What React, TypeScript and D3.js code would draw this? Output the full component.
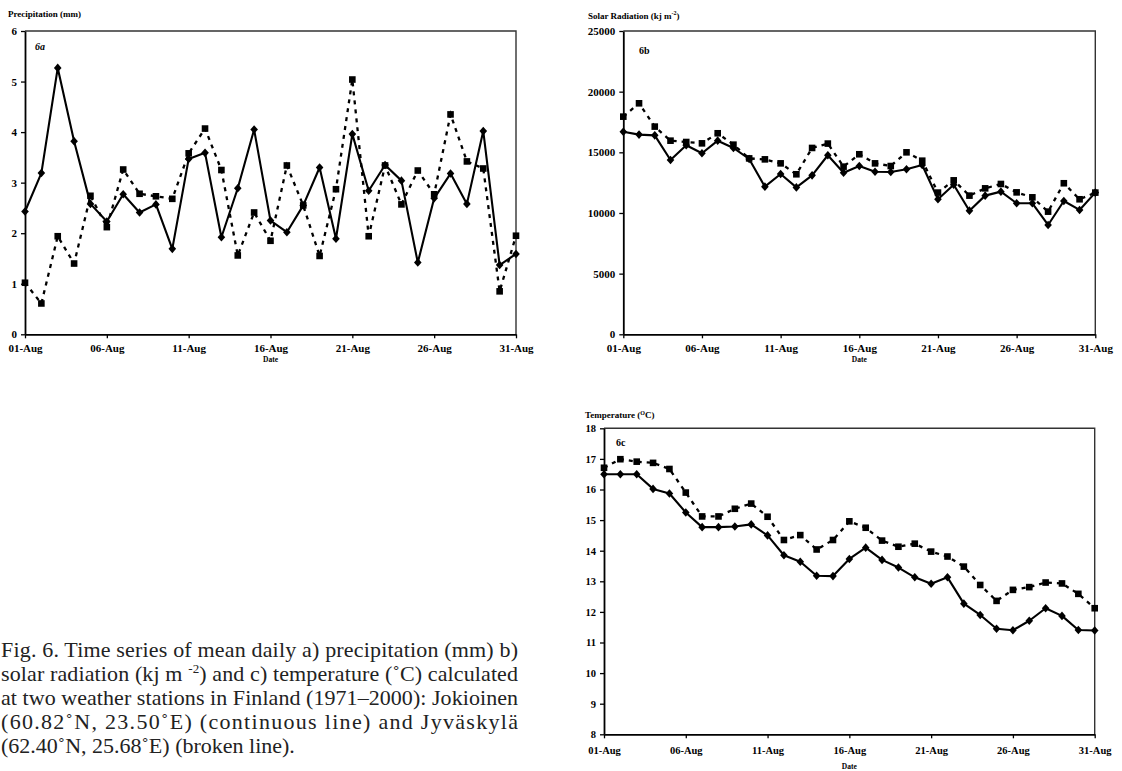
import { useRef, useEffect } from "react";
import * as d3 from "d3";

// days of August shown on every panel
const dates = d3.timeDays(new Date(2000, 7, 1), new Date(2000, 8, 1));
const tickDates = dates.filter((d, i) => i % 5 === 0);

// 6a precipitation (mm)
const precipTicks = [0, 1, 2, 3, 4, 5, 6];
const precipJokioinen = [2.43, 3.19, 5.27, 3.82, 2.58, 2.23, 2.77, 2.41, 2.57, 1.69, 3.47, 3.59, 1.92, 2.89, 4.05, 2.25, 2.02, 2.55, 3.3, 1.89, 3.96, 2.84, 3.35, 3.04, 1.42, 2.69, 3.18, 2.58, 4.02, 1.37, 1.59];
const precipJyvaskyla = [1.02, 0.61, 1.94, 1.4, 2.74, 2.12, 3.26, 2.78, 2.73, 2.68, 3.58, 4.07, 3.25, 1.56, 2.41, 1.85, 3.34, 2.55, 1.55, 2.87, 5.04, 1.94, 3.34, 2.57, 3.24, 2.77, 4.35, 3.42, 3.28, 0.85, 1.95];

// 6b solar radiation (kj m-2)
const solarTicks = [0, 5000, 10000, 15000, 20000, 25000];
const solarJokioinen = [16700, 16460, 16400, 14370, 15580, 14920, 15960, 15360, 14450, 12170, 13210, 12110, 13100, 14760, 13320, 13870, 13400, 13380, 13600, 13950, 11130, 12330, 10190, 11430, 11760, 10800, 10800, 9010, 10990, 10250, 11680];
const solarJyvaskyla = [17940, 19040, 17120, 15960, 15850, 15740, 16570, 15630, 14500, 14420, 14090, 13190, 15360, 15720, 13820, 14840, 14090, 13870, 15000, 14310, 11680, 12690, 11430, 12030, 12390, 11700, 11290, 10110, 12450, 11130, 11680];

// 6c temperature (C)
const tempTicks = [8, 9, 10, 11, 12, 13, 14, 15, 16, 17, 18];
const tempJokioinen = [16.5, 16.5, 16.5, 16.02, 15.87, 15.25, 14.77, 14.77, 14.79, 14.86, 14.5, 13.85, 13.64, 13.18, 13.17, 13.73, 14.1, 13.7, 13.45, 13.13, 12.92, 13.13, 12.27, 11.9, 11.45, 11.4, 11.71, 12.12, 11.87, 11.41, 11.39];
const tempJyvaskyla = [16.71, 16.99, 16.91, 16.87, 16.67, 15.9, 15.12, 15.12, 15.37, 15.54, 15.11, 14.35, 14.51, 14.04, 14.35, 14.96, 14.75, 14.33, 14.13, 14.23, 13.97, 13.81, 13.48, 12.88, 12.36, 12.72, 12.81, 12.96, 12.93, 12.59, 12.12];

const captionLines = [
  "Fig. 6. Time series of mean daily a) precipitation (mm) b)",
  "solar radiation (kj m |-2|) and c) temperature (\u02DAC) calculated",
  "at two weather stations in Finland (1971\u20132000): Jokioinen",
  "(60.82\u02DAN, 23.50\u02DAE) (continuous line) and Jyv\u00E4skyl\u00E4",
  "(62.40\u02DAN, 25.68\u02DAE) (broken line).",
];

const FONT = "'Liberation Serif', 'Times New Roman', Times, serif";

const panels = [
  {
    name: "6a", italic: true, title: ["Precipitation (mm)"], yTicks: precipTicks, jok: precipJokioinen, jyv: precipJyvaskyla,
    left: 25, right: 516, top: 31, bottom: 334.3, titleX: 8, titleY: 16.5, labelX: 35, labelY: 50,
    tickFont: 11, xPad: 6, dateY: 362,
  },
  {
    name: "6b", italic: false, title: ["Solar Radiation (kj m", "-2", ")"], yTicks: solarTicks, jok: solarJokioinen, jyv: solarJyvaskyla,
    left: 623.3, right: 1095.3, top: 31, bottom: 334.3, titleX: 588, titleY: 18.5, labelX: 639, labelY: 54,
    tickFont: 11, xPad: 6, dateY: 362,
  },
  {
    name: "6c", italic: false, title: ["Temperature (", "O", "C)"], yTicks: tempTicks, jok: tempJokioinen, jyv: tempJyvaskyla,
    left: 604, right: 1094.7, top: 428.3, bottom: 734.3, titleX: 585, titleY: 418, labelX: 616, labelY: 446,
    tickFont: 10.5, xPad: 8, dateY: 769,
  },
];

const diamond = (w, h) => `M0,${-h}L${w},0L0,${h}L${-w},0Z`;

const Panel = ({ cfg }) => {
  const ref = useRef(null);
  useEffect(() => {
    const g = d3.select(ref.current);
    g.selectAll("*").remove();

    const x = d3.scaleTime().domain(d3.extent(dates)).range([cfg.left, cfg.right]);
    const y = d3.scaleLinear().domain(d3.extent(cfg.yTicks)).range([cfg.bottom, cfg.top]);

    // top and right frame
    g.append("path")
      .attr("d", `M${cfg.left},${cfg.top}H${cfg.right}V${cfg.bottom}`)
      .attr("fill", "none")
      .attr("stroke", "#333")
      .attr("stroke-width", 1.4);

    const yAxis = g.append("g")
      .attr("transform", `translate(${cfg.left},0)`)
      .call(d3.axisLeft(y).tickValues(cfg.yTicks).tickSize(4).tickSizeOuter(0).tickPadding(4).tickFormat(d3.format("d")));
    const xAxis = g.append("g")
      .attr("transform", `translate(0,${cfg.bottom})`)
      .call(d3.axisBottom(x).tickValues(tickDates).tickSize(4).tickSizeOuter(0).tickPadding(cfg.xPad).tickFormat(d3.timeFormat("%d-%b")));
    [yAxis, xAxis].forEach((a) => {
      a.attr("font-family", FONT).attr("font-size", cfg.tickFont).attr("font-weight", "bold");
      a.select(".domain").attr("stroke", "#000").attr("stroke-width", 1.8);
      a.selectAll(".tick line").attr("stroke", "#000").attr("stroke-width", 1.3);
      a.selectAll("text").attr("fill", "#000");
    });

    // title with optional superscript
    const t = g.append("text")
      .attr("x", cfg.titleX)
      .attr("y", cfg.titleY)
      .attr("font-family", FONT)
      .attr("font-size", 9)
      .attr("font-weight", "bold");
    cfg.title.forEach((part, i) => {
      const sp = t.append("tspan").text(part);
      if (i === 1) sp.attr("font-size", 6).attr("dy", -3.5);
      if (i === 2) sp.attr("dy", 3.5);
    });

    g.append("text")
      .attr("x", (cfg.left + cfg.right) / 2)
      .attr("y", cfg.dateY)
      .attr("text-anchor", "middle")
      .attr("font-family", FONT)
      .attr("font-size", 7.5)
      .attr("font-weight", "bold")
      .text("Date");

    g.append("text")
      .attr("x", cfg.labelX)
      .attr("y", cfg.labelY)
      .attr("font-family", FONT)
      .attr("font-size", 10)
      .attr("font-weight", "bold")
      .attr("font-style", cfg.italic ? "italic" : "normal")
      .text(cfg.name);

    const line = d3.line().x((d, i) => x(dates[i])).y((d) => y(d));

    // Jyvaskyla: broken line with squares
    g.append("path")
      .datum(cfg.jyv)
      .attr("d", line)
      .attr("fill", "none")
      .attr("stroke", "#000")
      .attr("stroke-width", 2.3)
      .attr("stroke-dasharray", "4,5");
    // Jokioinen: continuous line with diamonds
    g.append("path")
      .datum(cfg.jok)
      .attr("d", line)
      .attr("fill", "none")
      .attr("stroke", "#000")
      .attr("stroke-width", 2.1)
      .attr("stroke-linejoin", "round");

    g.selectAll(".sq")
      .data(cfg.jyv)
      .enter()
      .append("rect")
      .attr("class", "sq")
      .attr("x", (d, i) => x(dates[i]) - 3.3)
      .attr("y", (d) => y(d) - 3.3)
      .attr("width", 6.6)
      .attr("height", 6.6)
      .attr("fill", "#000");
    g.selectAll(".dm")
      .data(cfg.jok)
      .enter()
      .append("path")
      .attr("class", "dm")
      .attr("d", diamond(3.8, 4.3))
      .attr("transform", (d, i) => `translate(${x(dates[i])},${y(d)})`)
      .attr("fill", "#000");
  }, [cfg]);
  return <g ref={ref} />;
};

const Caption = () => {
  const ref = useRef(null);
  useEffect(() => {
    const g = d3.select(ref.current);
    g.selectAll("*").remove();
    captionLines.forEach((ln, i) => {
      const t = g.append("text")
        .attr("x", 1)
        .attr("y", 657 + i * 24)
        .attr("font-family", FONT)
        .attr("font-size", 22)
        .attr("fill", "#222");
      ln.split("|").forEach((part, j) => {
        const sp = t.append("tspan").text(part);
        if (j === 1) sp.attr("font-size", 13).attr("dy", -8);
        if (j === 2) sp.attr("dy", 8);
      });
      if (i < captionLines.length - 1) {
        t.attr("textLength", 517).attr("lengthAdjust", "spacing");
      }
    });
  }, []);
  return <g ref={ref} />;
};

export default function App() {
  return (
    <svg
      width={1122}
      height={771}
      style={{ position: "absolute", left: 0, top: 0, background: "#fff" }}
    >
      {panels.map((p) => (
        <Panel key={p.name} cfg={p} />
      ))}
      <Caption />
    </svg>
  );
}
